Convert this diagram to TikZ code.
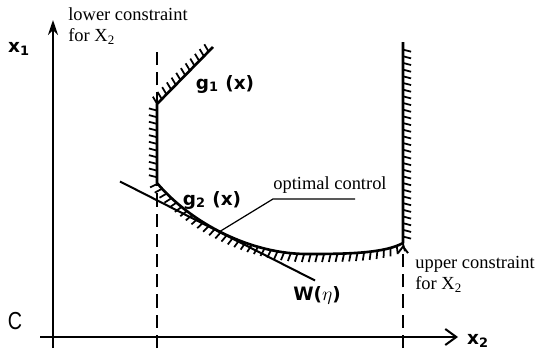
\documentclass[tikz,border=0pt]{standalone}
\usepackage{fontspec}
\setmainfont{Liberation Serif}
\setsansfont{Liberation Sans}
\newfontfamily\varfont{DejaVu Sans}
\usetikzlibrary{arrows.meta, decorations.markings}

\begin{document}
\begin{tikzpicture}[
    x=0.02cm, y=-0.02cm,
    axis/.style={line width=1.15pt},
    limit/.style={line width=1.1pt, dash pattern=on 7.5pt off 4pt},
    bound/.style={line width=1.5pt, line join=round,
                  postaction={decorate, decoration={markings,
                  mark=between positions 0.01 and 0.99 step 3.8pt with
                  {\draw[line width=1pt, solid] (0,0) -- (-1.2pt,-4.6pt);}}}},
    tang/.style={line width=1.15pt},
    lead/.style={line width=0.7pt},
    lbl/.style={font=\fontsize{10.5}{12}\selectfont, align=left, inner sep=0pt},
    var/.style={font=\varfont\bfseries\fontsize{10.5}{13}\selectfont, inner sep=0pt},
]
\useasboundingbox (0,0) rectangle (535,355);
% ---- axes and constraint limits ----
\coordinate (ybot) at (53,348);
\coordinate (ytop) at (53,20);
\coordinate (xleft) at (40,337);
\coordinate (xright) at (458,337);
\coordinate (lobot) at (157,348);
\coordinate (lotop) at (157,48);
\coordinate (upbot) at (403,348);
\coordinate (uptop) at (403,245);
\draw[axis, -{Stealth[length=3mm, width=2mm]}] (ybot) -- (ytop);
\draw[axis, -{Straight Barb[length=2.2mm, width=3.2mm]}] (xleft) -- (xright);
\draw[limit] (lobot) -- (lotop);
\draw[limit, -{Straight Barb[length=1.3mm, width=2mm]}] (upbot) -- (uptop);

% ---- feasible region boundary ----
\coordinate (gA) at (213,47);
\coordinate (gB) at (157,104);
\coordinate (gC) at (157,183);
\coordinate (gM) at (310,254);
\coordinate (gD) at (403,243);
\coordinate (gE) at (403,42);
\draw[bound] (gA) -- (gB) -- (gC)
    .. controls (190,222) and (250,255) .. (gM)
    .. controls (350,254) and (385,253) .. (gD) -- (gE);

% ---- tangent line and optimal point ----
\coordinate (wA) at (120,181.5);
\coordinate (wB) at (315,280.5);
\coordinate (tp) at (219,232);
\coordinate (knee) at (273,199);
\coordinate (lend) at (355,199);
\draw[tang] (wA) -- (wB);
\draw[lead] (tp) -- (knee) -- (lend);

% ---- labels ----
\node[var] (x1) at (19,49) {x\textsubscript{1}};
\node[var] (x2) at (478,341) {x\textsubscript{2}};
\node[font=\sffamily\fontsize{14}{16}\selectfont, inner sep=0pt, xscale=0.8] (orig) at (15,321) {C};
\node[var] (g1) at (225,84) {g\textsubscript{1} (x)};
\node[var] (g2) at (212,200) {g\textsubscript{2} (x)};
\node[var] (W) at (317,295) {W($\eta$)};
\node[lbl, anchor=north west] (lo) at (68,7) {lower constraint\\for X\textsubscript{2}};
\node[lbl, anchor=north west] (up) at (415,256) {upper constraint\\for X\textsubscript{2}};
\node[lbl, anchor=base west] (opt) at (273,189) {optimal control};
\end{tikzpicture}
\end{document}
